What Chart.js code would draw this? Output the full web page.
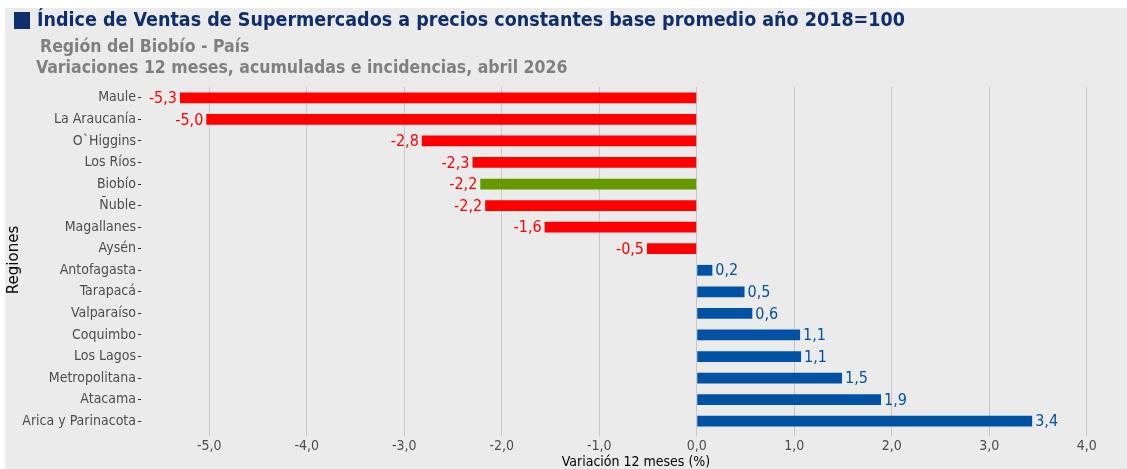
<!DOCTYPE html>
<html>
<head>
<meta charset="utf-8">
<script src="https://cdn.jsdelivr.net/npm/chart.js@4.4.1/dist/chart.umd.min.js"></script>
<style>
    html, body { margin: 0; padding: 0; background: #ffffff; }
    #wrap { width: 1127px; height: 469px; position: relative; }
</style>
</head>
<body>
<div id="wrap"><canvas id="ventasChart" width="1127" height="469"></canvas></div>
<script>
// Datos (variación 12 meses, %)
const regiones = ['Maule', 'La Araucanía', 'O`Higgins', 'Los Ríos', 'Biobío', 'Ñuble', 'Magallanes', 'Aysén',
    'Antofagasta', 'Tarapacá', 'Valparaíso', 'Coquimbo', 'Los Lagos', 'Metropolitana', 'Atacama', 'Arica y Parinacota'];
const variaciones = [-5.30, -5.03, -2.82, -2.30, -2.22, -2.17, -1.56, -0.51,
    0.16, 0.49, 0.57, 1.06, 1.07, 1.49, 1.89, 3.44];
const ejeX = [-5, -4, -3, -2, -1, 0, 1, 2, 3, 4];
const regionDestacada = 'Biobío';

const COND = '"DejaVu Sans Condensed", "DejaVu Sans", sans-serif';
const ROJO = '#ff0000';
const AZUL = '#0052a5';
const VERDE = '#669900';

const colores = regiones.map((r, i) => {
    if (r === regionDestacada) return VERDE;
    return variaciones[i] < 0 ? ROJO : AZUL;
});
const coloresTexto = variaciones.map(v => v < 0 ? ROJO : AZUL);

const fmt = (v) => v.toFixed(1).replace('.', ',');

// fondo y títulos
const decoPlugin = {
    id: 'deco',
    beforeDraw(chart) {
        const ctx = chart.ctx;
        ctx.save();
        ctx.fillStyle = '#ffffff';
        ctx.fillRect(0, 0, chart.width, chart.height);
        ctx.fillStyle = '#ebebeb';
        ctx.fillRect(5, 8, chart.width - 5, chart.height - 8);
        ctx.restore();
    },
    afterDraw(chart) {
        const ctx = chart.ctx;
        const area = chart.chartArea;
        ctx.save();
        ctx.textBaseline = 'middle';
        ctx.textAlign = 'left';
        // titulo
        ctx.fillStyle = '#0f2e6e';
        ctx.fillRect(14, 12, 16, 17);
        ctx.font = 'bold 19.5px ' + COND;
        ctx.fillText('Índice de Ventas de Supermercados a precios constantes base promedio año 2018=100', 37, 21);
        ctx.fillStyle = '#808080';
        ctx.font = 'bold 17.5px ' + COND;
        ctx.fillText('Región del Biobío - País', 40, 47);
        ctx.fillText('Variaciones 12 meses, acumuladas e incidencias, abril 2026', 36, 68);

        // titulos de ejes
        ctx.fillStyle = '#000000';
        ctx.font = '14px ' + COND;
        ctx.textAlign = 'center';
        ctx.fillText('Variación 12 meses (%)', 636, 462);
        ctx.save();
        ctx.translate(14, 260);
        ctx.rotate(-Math.PI / 2);
        ctx.font = '15px "DejaVu Sans", sans-serif';
        ctx.fillText('Regiones', 0, 0);
        ctx.restore();
        ctx.restore();
    },
    afterDatasetsDraw(chart) {
        const ctx = chart.ctx;
        const meta = chart.getDatasetMeta(0);
        ctx.save();
        ctx.font = '16px ' + COND;
        ctx.textBaseline = 'middle';
        meta.data.forEach((bar, i) => {
            const v = variaciones[i];
            ctx.fillStyle = coloresTexto[i];
            if (v < 0) {
                ctx.textAlign = 'right';
                ctx.fillText(fmt(v), bar.x - 3, bar.y + 1);
            } else {
                ctx.textAlign = 'left';
                ctx.fillText(fmt(v), bar.x + 3, bar.y + 1);
            }
        });
        ctx.restore();
    }
};

const ctx = document.getElementById('ventasChart').getContext('2d');
new Chart(ctx, {
    type: 'bar',
    data: {
        labels: regiones,
        datasets: [{
            data: variaciones,
            backgroundColor: colores,
            borderWidth: 0,
            barPercentage: 0.5,
            categoryPercentage: 1.0
        }]
    },
    options: {
        indexAxis: 'y',
        responsive: false,
        animation: false,
        layout: {
            padding: { left: 0, top: 87, right: 11, bottom: 0 }
        },
        plugins: {
            legend: { display: false },
            tooltip: { enabled: false },
            title: { display: false }
        },
        scales: {
            x: {
                min: -5.7,
                max: 4.3,
                afterFit: (scale) => { scale.height = 37; },
                afterBuildTicks: (scale) => {
                    scale.ticks = ejeX.map(v => ({ value: v }));
                },
                grid: {
                    color: '#c8c8c8',
                    lineWidth: 1,
                    drawTicks: true,
                    tickLength: 4
                },
                border: { display: false },
                ticks: {
                    padding: 2,
                    color: '#4d4d4d',
                    font: { family: COND, size: 14 },
                    callback: (v) => fmt(v)
                }
            },
            y: {
                afterFit: (scale) => { scale.width = 141; },
                grid: {
                    display: true,
                    offset: false,
                    drawOnChartArea: false,
                    drawTicks: true,
                    tickLength: 3,
                    color: '#333333'
                },
                border: { display: false },
                ticks: {
                    padding: 2,
                    color: '#4d4d4d',
                    font: { family: COND, size: 14 }
                }
            }
        }
    },
    plugins: [decoPlugin]
});
</script>
</body>
</html>
